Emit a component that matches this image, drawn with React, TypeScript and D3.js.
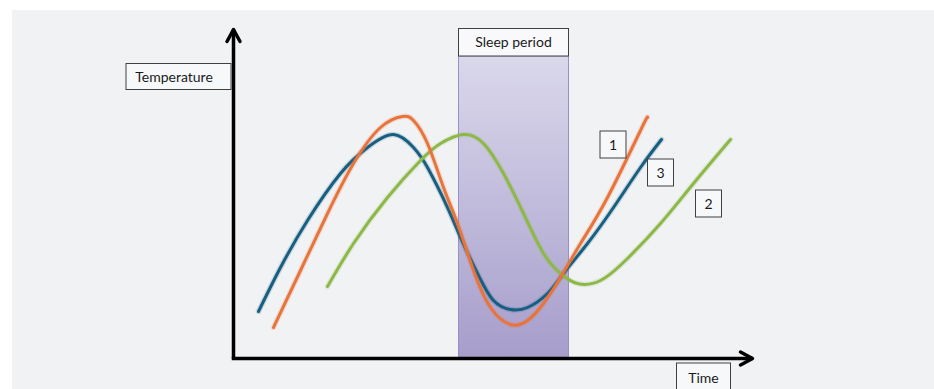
import React from "react";
import * as d3 from "d3";

// Schematic data: time (arbitrary units) and body temperature (arbitrary units)
const curve1Time = [4.0, 6.7, 9.4, 12.0, 14.7, 16.9, 18.0, 19.4, 21.0, 22.4, 24.0, 25.7, 27.7, 29.4, 31.0, 32.7, 34.7, 37.4, 40.7, 41.4];
const curve1Temp = [3.1, 8.8, 14.5, 19.5, 23.1, 24.2, 23.8, 21.5, 17.1, 13.5, 8.8, 5.1, 3.4, 3.8, 5.5, 8.1, 11.5, 16.1, 22.8, 24.1];

const curve2Time = [9.4, 12.0, 15.4, 18.7, 20.7, 23.0, 25.0, 27.0, 29.0, 31.0, 32.7, 34.4, 36.7, 39.4, 42.7, 46.0, 49.7];
const curve2Temp = [7.2, 11.5, 16.1, 19.8, 21.5, 22.4, 21.5, 18.5, 14.5, 10.5, 8.5, 7.5, 7.8, 10.0, 13.5, 17.5, 21.9];

const curve3Time = [2.5, 4.7, 7.4, 10.7, 13.4, 16.0, 18.0, 19.4, 21.4, 22.7, 24.4, 26.0, 27.7, 29.4, 31.4, 33.0, 35.4, 38.0, 40.7, 42.8];
const curve3Temp = [4.7, 9.1, 13.8, 18.5, 21.1, 22.4, 21.1, 19.1, 15.1, 12.1, 8.5, 5.8, 4.9, 5.1, 6.5, 8.5, 11.5, 15.1, 19.1, 21.9];

const sleepStart = 22.5;
const sleepEnd = 33.5;

const seriesLabels = ["1", "2", "3"];
const seriesColors = ["#E8743B", "#8DB848", "#175E80"];
const axisTitles = { y: "Temperature", x: "Time", band: "Sleep period" };

const W = 934;
const H = 389;
const FONT = "Lato, 'Open Sans', sans-serif";

export default function App() {
  const x = d3.scaleLinear().domain([0, 52]).range([233.5, 753.5]);
  const y = d3.scaleLinear().domain([0, 33]).range([358.5, 28.5]);

  const line = d3
    .line<[number, number]>()
    .x((d) => x(d[0]))
    .y((d) => y(d[1]))
    .curve(d3.curveNatural);

  const series = [
    { t: curve3Time, v: curve3Temp, color: seriesColors[2] },
    { t: curve2Time, v: curve2Temp, color: seriesColors[1] },
    { t: curve1Time, v: curve1Temp, color: seriesColors[0] },
  ];

  const x0 = x(0);
  const y0 = y(0);
  const xEnd = x(52);
  const yTop = y(33);

  const sx0 = x(sleepStart);
  const sx1 = x(sleepEnd);

  const labelBoxes = [
    { text: seriesLabels[0], x: 600, y: 131, w: 26, h: 27 },
    { text: seriesLabels[2], x: 647.5, y: 159, w: 26, h: 27 },
    { text: seriesLabels[1], x: 695.5, y: 190, w: 26, h: 27 },
  ];

  return (
    <svg width={W} height={H} style={{ position: "absolute", left: 0, top: 0 }}>
      <defs>
        <linearGradient id="sleepGrad" x1="0" y1="0" x2="0" y2="1">
          <stop offset="0%" stopColor="#DAD8EB" />
          <stop offset="100%" stopColor="#A69DCB" />
        </linearGradient>
      </defs>
      <rect x={0} y={0} width={W} height={H} fill="#ffffff" />
      <rect x={12} y={10} width={W - 12} height={H - 10} fill="#F0F2F4" />

      {/* sleep band */}
      <rect x={sx0} y={56} width={sx1 - sx0} height={y0 - 56} fill="url(#sleepGrad)" stroke="#9890C4" strokeWidth={1} />
      <rect x={sx0} y={28.5} width={sx1 - sx0} height={27.5} fill="#F9F9FB" stroke="#404040" strokeWidth={1} />
      <text x={(sx0 + sx1) / 2} y={47} textAnchor="middle" fontFamily={FONT} fontSize={14} fill="#1a1a1a">
        {axisTitles.band}
      </text>

      {/* curves */}
      {series.map((s, i) => {
        const pts = s.t.map((t, j) => [t, s.v[j]] as [number, number]);
        const d = line(pts) || "";
        return (
          <g key={i}>
            <path d={d} fill="none" stroke={s.color} strokeOpacity={0.18} strokeWidth={5.5} strokeLinecap="round" />
            <path d={d} fill="none" stroke={s.color} strokeWidth={3} strokeLinecap="round" />
          </g>
        );
      })}

      {/* axes */}
      <line x1={x0} y1={y0} x2={x0} y2={yTop + 1} stroke="#000" strokeWidth={3.5} />
      <path d={`M${x0 - 6.5},${yTop + 13} L${x0},${yTop + 1} L${x0 + 6.5},${yTop + 13}`} fill="none" stroke="#000" strokeWidth={3.5} strokeLinecap="round" strokeLinejoin="round" />
      <line x1={x0 - 1.75} y1={y0} x2={xEnd - 1} y2={y0} stroke="#000" strokeWidth={3.5} />
      <path d={`M${xEnd - 13},${y0 - 6.5} L${xEnd - 1},${y0} L${xEnd - 13},${y0 + 6.5}`} fill="none" stroke="#000" strokeWidth={3.5} strokeLinecap="round" strokeLinejoin="round" />

      {/* axis titles */}
      <rect x={126} y={63.5} width={105} height={26} fill="#F7F8FA" stroke="#404040" strokeWidth={1} />
      <text x={174} y={81.5} textAnchor="middle" fontFamily={FONT} fontSize={14} fill="#1a1a1a">
        {axisTitles.y}
      </text>
      <rect x={676.5} y={363} width={54} height={30} fill="#F7F8FA" stroke="#404040" strokeWidth={1} />
      <text x={703.5} y={383} textAnchor="middle" fontFamily={FONT} fontSize={14} fill="#1a1a1a">
        {axisTitles.x}
      </text>

      {/* series labels */}
      {labelBoxes.map((b) => (
        <g key={b.text}>
          <rect x={b.x} y={b.y} width={b.w} height={b.h} fill="#F7F8FA" stroke="#404040" strokeWidth={1} />
          <text x={b.x + b.w / 2} y={b.y + b.h / 2 + 5} textAnchor="middle" fontFamily={FONT} fontSize={14} fill="#1a1a1a">
            {b.text}
          </text>
        </g>
      ))}
    </svg>
  );
}
